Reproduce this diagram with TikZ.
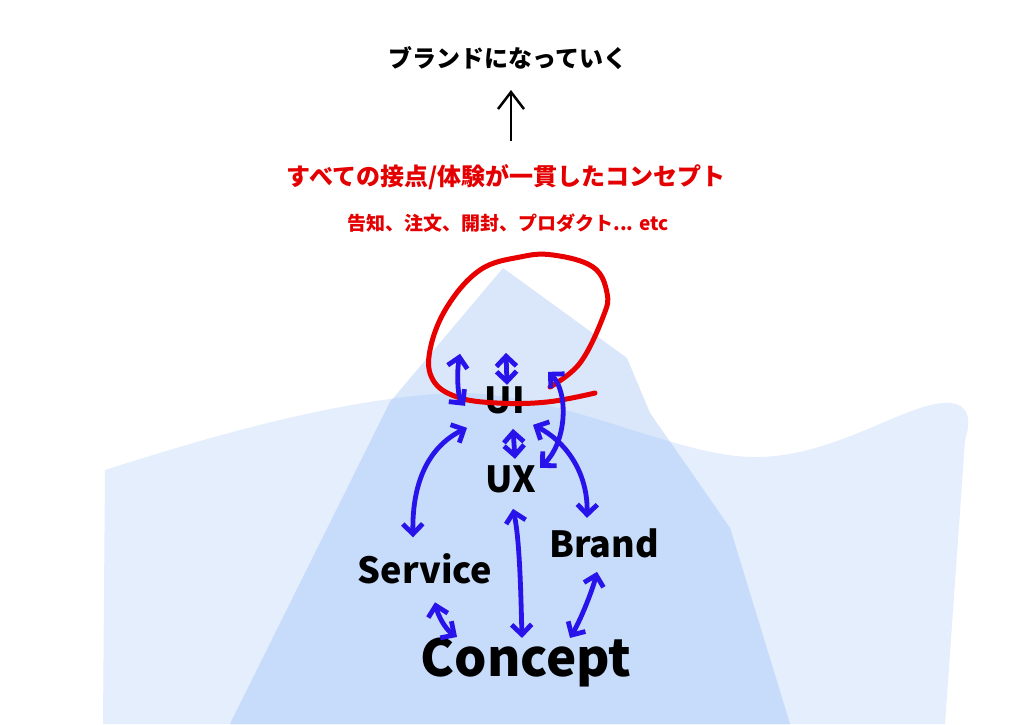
\documentclass[tikz,border=0pt]{standalone}
\usepackage{fontspec}
\setmainfont{Noto Sans CJK JP}
\usepackage{tikz}
\usetikzlibrary{arrows.meta}
\usetikzlibrary{scopes}
\definecolor{seablue}{RGB}{228,238,252}
\definecolor{iceblue}{RGB}{218,231,251}
\definecolor{deepblue}{RGB}{198,220,250}
\definecolor{linkblue}{RGB}{40,20,235}
\definecolor{loopred}{RGB}{232,0,0}
\definecolor{textred}{RGB}{228,0,0}

\begin{document}
\begin{tikzpicture}[x=1pt,y=-1pt,
		twoway/.style={draw=linkblue,line width=4.8pt,line cap=round,>={Straight Barb[length=10pt,width=20pt]},<->},
		upward/.style={draw=black,line width=2.5pt,-{Straight Barb[length=17pt,width=26pt]}},
		headline/.style={inner sep=0pt,font=\fontsize{24}{28}\selectfont\bfseries},
		subline/.style={inner sep=0pt,text=textred,font=\fontsize{19}{22}\selectfont\bfseries},
		word/.style={inner sep=0pt,anchor=base,font=\fontsize{36}{36}\selectfont\bfseries}]
			\useasboundingbox (0,0) rectangle (1024,724);
			\fill[white] (0,0) rectangle (1024,724);
			\fill[seablue] (103,724) -- (105,470) .. controls (200,440) and (330,400) .. (450,393) .. controls (560,390) and (680,460) .. (760,457) .. controls (840,455) and (910,400) .. (950,403) .. controls (972,405) and (970,425) .. (965,440) -- (945,724) -- cycle;
			\fill[iceblue] (503,268) -- (627,358) -- (650,413) -- (730,528) -- (790,724) -- (230,724) -- (390,402) -- cycle;
			\begin{scope}
				\clip (103,724) -- (105,470) .. controls (200,440) and (330,400) .. (450,393) .. controls (560,390) and (680,460) .. (760,457) .. controls (840,455) and (910,400) .. (950,403) .. controls (972,405) and (970,425) .. (965,440) -- (945,724) -- cycle;
				\fill[deepblue] (503,268) -- (627,358) -- (650,413) -- (730,528) -- (790,724) -- (230,724) -- (390,402) -- cycle;
			\end{scope}
			\node[headline] (goal) at (508,58) {ブランドになっていく};
			\node[headline,text=textred] (slogan) at (506,177) {すべての接点/体験が一貫したコンセプト};
			\node[subline] (touch) at (508,223) {告知、注文、開封、プロダクト... etc};
			\draw[upward] ([shift={(5,-36)}]slogan.center) -- ([shift={(3,32)}]goal.center);
			\node[word] (ui) at (505,413) {UI};
			\node[word] (ux) at (511,492) {UX};
			\node[word] (service) at (425,583) {Service};
			\node[word] (brand) at (604,557) {Brand};
			\node[word,font=\fontsize{51}{51}\selectfont\bfseries] (concept) at (526,676) {Concept};
			\draw[loopred,line width=5pt,line cap=round] plot[smooth,tension=0.65] coordinates {(550,387) (580,363) (603,317) (607,293) (593,267) (553,255) (520,257) (480,270) (447,307) (430,350) (433,380) (457,397) (497,403) (547,402) (595,393)};
			\draw[twoway] ([shift={(-40,6)}]ui.center) .. controls +(-8,-10) and +(-3,16) .. ([shift={(-45,-46)}]ui.center);
			\draw[twoway] ([shift={(2,-15)}]ui.center) -- ([shift={(1,-47)}]ui.center);
			\draw[twoway] ([shift={(29,-11)}]ux.center) .. controls +(28,-27) and +(20,19) .. ([shift={(43,-28)}]ui.center);
			\draw[twoway] ([shift={(8,29)}]ui.center) -- ([shift={(4,-20)}]ux.center);
			\draw[twoway] ([shift={(-38,28)}]ui.center) .. controls +(-37,18) and +(-1,-57) .. ([shift={(-12,-31)}]service.center);
			\draw[twoway] ([shift={(28,25)}]ui.center) .. controls +(32,16) and +(1,-46) .. ([shift={(-17,-25)}]brand.center);
			\draw[twoway] ([shift={(2,30)}]ux.center) .. controls +(7,32) and +(-1,-37) .. ([shift={(-4,-24)}]concept.center);
			\draw[twoway] ([shift={(10,34)}]service.center) .. controls +(3,13) and +(-12,-8) .. ([shift={(-69,-25)}]concept.center);
			\draw[twoway] ([shift={(-7,29)}]brand.center) .. controls +(-5,20) and +(10,-17) .. ([shift={(44,-24)}]concept.center);
		\end{tikzpicture}
\end{document}
